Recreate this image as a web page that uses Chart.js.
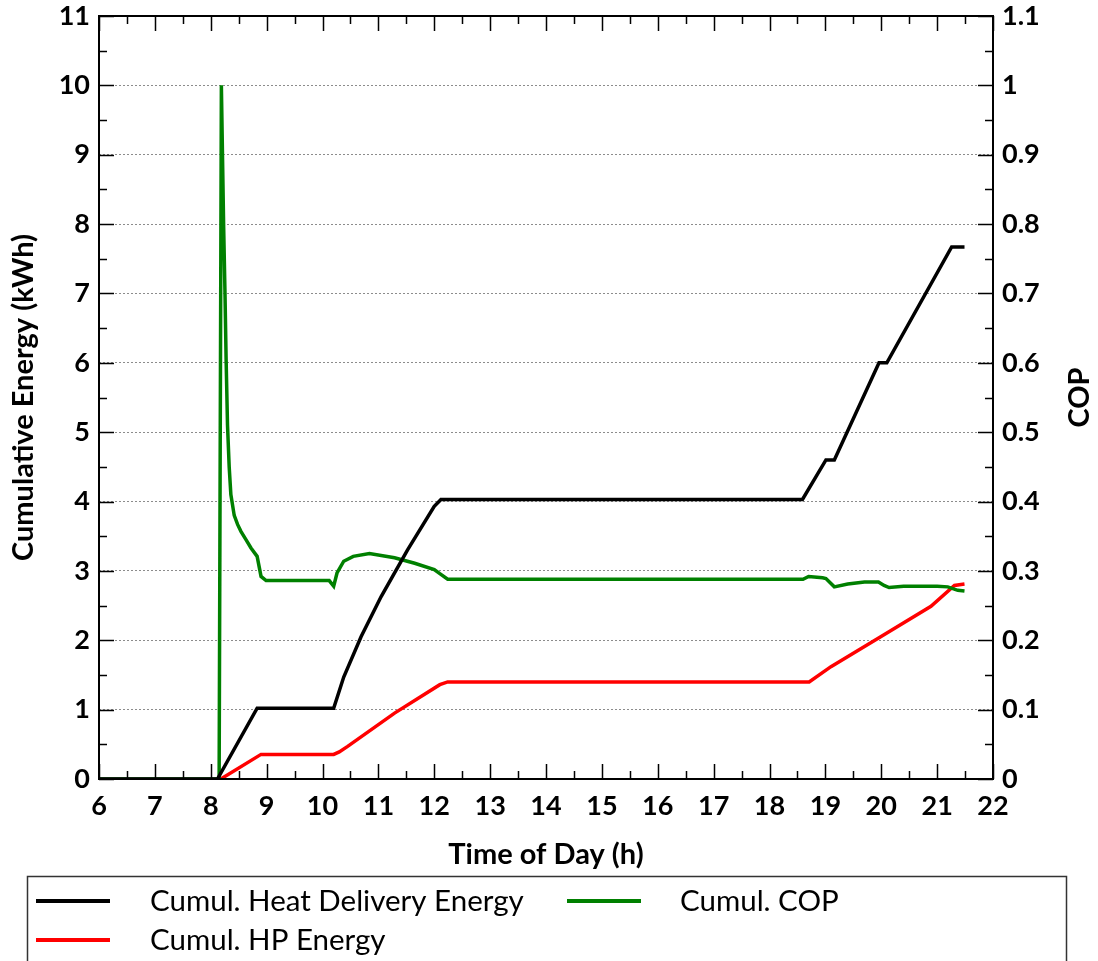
<!DOCTYPE html>
<html>
<head>
<meta charset="utf-8">
<script src="https://cdn.jsdelivr.net/npm/chart.js@4.4.1/dist/chart.umd.min.js"></script>
<style>
  body { margin: 0; background: #fff; }
  #wrap { width: 1098px; height: 961px; position: relative; }
</style>
</head>
<body>
<div id="wrap"><canvas id="copChart"></canvas></div>
<script>
// values, time of day in hours
const heatTime   = [6, 8.12, 8.83, 10.2, 10.38, 10.69, 11.05, 11.52, 12.0, 12.12, 18.59, 19.01, 19.16, 19.96, 20.1, 21.26, 21.49];
const heatEnergy = [0, 0, 1.02, 1.02, 1.47, 2.05, 2.63, 3.30, 3.93, 4.03, 4.03, 4.60, 4.60, 6.0, 6.0, 7.67, 7.67];

const hpTime   = [8.18, 8.9, 10.2, 10.3, 10.45, 11.29, 12.1, 12.24, 18.71, 19.1, 19.99, 20.89, 21.31, 21.49];
const hpEnergy = [0, 0.355, 0.355, 0.39, 0.47, 0.95, 1.36, 1.40, 1.40, 1.62, 2.05, 2.49, 2.79, 2.81];

const copTime  = [6, 8.15, 8.19, 8.23, 8.255, 8.275, 8.30, 8.33, 8.36, 8.42, 8.48, 8.54, 8.63, 8.72, 8.83, 8.90, 8.99,
                  10.12, 10.2, 10.26, 10.38, 10.55, 10.84, 11.29, 11.65, 12.0, 12.1, 12.24,
                  18.6, 18.7, 18.95, 19.01, 19.16, 19.4, 19.7, 19.95, 20.05, 20.14, 20.4, 20.71, 21.0, 21.19, 21.37, 21.49];
const copValue = [0, 0, 1.0, 0.80, 0.70, 0.605, 0.51, 0.45, 0.41, 0.38, 0.367, 0.357, 0.345, 0.333, 0.321, 0.292, 0.286,
                  0.286, 0.278, 0.297, 0.314, 0.321, 0.325, 0.319, 0.311, 0.302, 0.296, 0.288,
                  0.288, 0.292, 0.290, 0.289, 0.277, 0.281, 0.284, 0.284, 0.279, 0.276, 0.278, 0.278, 0.278, 0.277, 0.272, 0.271];

// axis ranges
const timeRange = [6, 22];
const energyRange = [0, 11];
const copRange = [0, 1.1];

const toPoints = (xs, ys) => xs.map((x, i) => ({ x: x, y: ys[i] }));

const FONT = "Lato, 'Open Sans', sans-serif";
Chart.defaults.font.family = FONT;
Chart.defaults.color = '#000';

// box round the plot with inward tick marks, like the original
const frameTicks = {
    id: 'frameTicks',
    afterDatasetsDraw(chart) {
        const { ctx, chartArea: a, scales } = chart;
        ctx.save();
        ctx.strokeStyle = '#000';
        ctx.lineWidth = 1.5;
        ctx.beginPath();
        for (let h = timeRange[0]; h <= timeRange[1]; h += 0.5) {
            const px = Math.round(scales.x.getPixelForValue(h)) + 0.5;
            const len = h % 1 === 0 ? 15 : 8;
            ctx.moveTo(px, a.bottom); ctx.lineTo(px, a.bottom - len);
            ctx.moveTo(px, a.top); ctx.lineTo(px, a.top + len);
        }
        for (let v = energyRange[0]; v <= energyRange[1]; v += 0.5) {
            const py = Math.round(scales.y.getPixelForValue(v)) + 0.5;
            const len = v % 1 === 0 ? 15 : 8;
            ctx.moveTo(a.left, py); ctx.lineTo(a.left + len, py);
        }
        for (let k = 0; k <= 22; k++) {
            const py = Math.round(scales.y1.getPixelForValue(k * 0.05)) + 0.5;
            const len = k % 2 === 0 ? 15 : 8;
            ctx.moveTo(a.right, py); ctx.lineTo(a.right - len, py);
        }
        ctx.stroke();
        ctx.lineWidth = 2;
        ctx.strokeRect(a.left, a.top, a.right - a.left, a.bottom - a.top);

        // right axis title reads bottom to top
        ctx.font = 'bold 29px ' + FONT;
        ctx.fillStyle = '#000';
        ctx.textAlign = 'center';
        ctx.textBaseline = 'middle';
        ctx.translate(1080, (a.top + a.bottom) / 2);
        ctx.rotate(-Math.PI / 2);
        ctx.fillText('COP', 0, 0);
        ctx.restore();
    }
};

// boxed legend below the axis title
const boxLegend = {
    id: 'boxLegend',
    afterDraw(chart) {
        const { ctx } = chart;
        const ds = chart.data.datasets;
        const slots = [
            { i: 0, x: 36, y: 901 },
            { i: 1, x: 567, y: 901 },
            { i: 2, x: 36, y: 940 }
        ];
        ctx.save();
        ctx.strokeStyle = '#333';
        ctx.lineWidth = 1.5;
        ctx.strokeRect(27.5, 876.5, 1039, 100);
        ctx.font = '29.5px ' + FONT;
        ctx.fillStyle = '#000';
        ctx.textBaseline = 'middle';
        slots.forEach(s => {
            const d = ds[s.i];
            ctx.strokeStyle = d.borderColor;
            ctx.lineWidth = 4;
            ctx.beginPath();
            ctx.moveTo(s.x, s.y);
            ctx.lineTo(s.x + 74, s.y);
            ctx.stroke();
            ctx.fillText(d.label, s.x + (s.i === 1 ? 113 : 114), s.y);
        });
        ctx.restore();
    }
};

const tickFont = { size: 27, weight: 'bold' };
const titleFont = { size: 29, weight: 'bold' };

// drop the label overflow padding so the plot box lands where it should
const noOverflow = s => { s.paddingTop = 0; s.paddingBottom = 0; s.paddingLeft = 0; s.paddingRight = 0; };

new Chart(document.getElementById('copChart'), {
    type: 'line',
    data: {
        datasets: [
            {
                label: 'Cumul. Heat Delivery Energy',
                data: toPoints(heatTime, heatEnergy),
                borderColor: '#000000',
                yAxisID: 'y'
            },
            {
                label: 'Cumul. COP',
                data: toPoints(copTime, copValue),
                borderColor: '#008000',
                yAxisID: 'y1'
            },
            {
                label: 'Cumul. HP Energy',
                data: toPoints(hpTime, hpEnergy),
                borderColor: '#ff0000',
                yAxisID: 'y'
            }
        ]
    },
    options: {
        responsive: true,
        maintainAspectRatio: false,
        animation: false,
        layout: { padding: { top: 16, bottom: 87, left: 0, right: 0 } },
        elements: {
            point: { radius: 0 },
            line: { borderWidth: 3.5, tension: 0, fill: false }
        },
        plugins: {
            legend: { display: false },
            tooltip: { enabled: false }
        },
        scales: {
            x: {
                type: 'linear',
                min: timeRange[0],
                max: timeRange[1],
                grid: { display: false, drawTicks: false },
                border: { display: false },
                ticks: { stepSize: 1, padding: 11, font: tickFont, maxRotation: 0 },
                title: { display: true, text: 'Time of Day (h)', font: titleFont, padding: { top: 0, bottom: 2 } },
                afterFit: s => { noOverflow(s); s.height = 95; }
            },
            y: {
                position: 'left',
                min: energyRange[0],
                max: energyRange[1],
                grid: { color: '#8c8c8c', lineWidth: 1, drawTicks: false },
                border: { display: false, dash: [2, 2] },
                ticks: { stepSize: 1, padding: 9, font: tickFont },
                title: { display: true, text: 'Cumulative Energy (kWh)', font: titleFont, padding: { top: 6, bottom: 0 } },
                afterFit: s => { noOverflow(s); s.width = 99; }
            },
            y1: {
                position: 'right',
                min: copRange[0],
                max: copRange[1],
                grid: { drawOnChartArea: false, drawTicks: false },
                border: { display: false },
                ticks: { stepSize: 0.1, padding: 9, font: tickFont, callback: v => String(+v.toFixed(1)) },
                afterFit: s => { noOverflow(s); s.width = 105; }
            }
        }
    },
    plugins: [frameTicks, boxLegend]
});
</script>
</body>
</html>
